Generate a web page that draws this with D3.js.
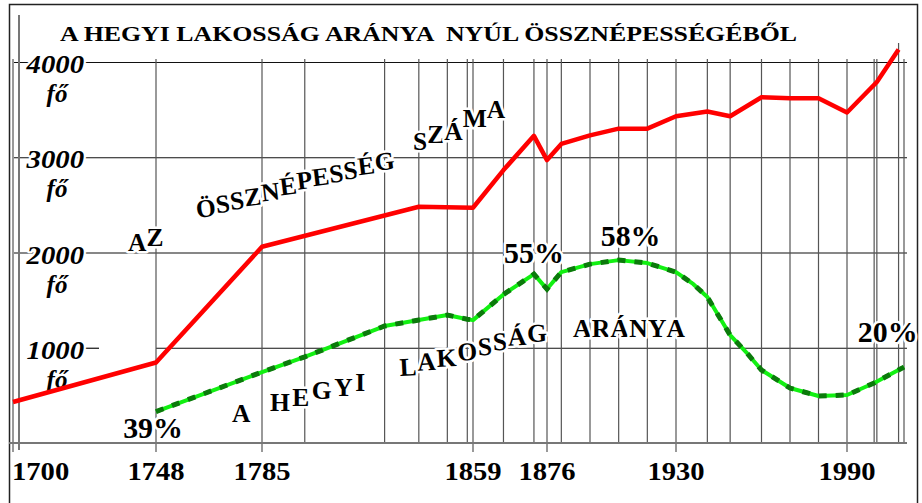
<!DOCTYPE html>
<html>
<head>
<meta charset="utf-8">
<script src="https://cdn.jsdelivr.net/npm/d3@7"></script>
<style>
body { margin: 0; background: #fff; }
svg { display: block; font-family: "Liberation Serif", "Times New Roman", serif; }
</style>
</head>
<body>
<svg id="chart" width="922" height="503"></svg>
<script>
// labelled years on the bottom axis (the axis is not evenly spaced in the original)
var tickYears = [1700, 1748, 1785, 1859, 1876, 1930, 1990];
var lastYear = 2011;
// every vertical line of the grid
var gridYears = [1700, 1748, 1785, 1800, 1828, 1840, 1850, 1857, 1859, 1866, 1873, 1876,
                 1882, 1894, 1906, 1918, 1930, 1941, 1949, 1960, 1970, 1980, 1990,
                 2000, 2001, 2009, 2011];
var valueTicks = [1000, 2000, 3000, 4000];
var unitLabel = "fő";
var titleText = "A HEGYI LAKOSSÁG ARÁNYA  NYÚL ÖSSZNÉPESSÉGÉBŐL";

// total population (red)
var totalYears  = [1700, 1748, 1785, 1840, 1859, 1866, 1873, 1876, 1882, 1894, 1906,
                   1918, 1930, 1941, 1949, 1960, 1970, 1980, 1990, 2001, 2009];
var totalValues = [430, 845, 2060, 2480, 2470, 2865, 3225, 2970, 3140, 3230, 3300,
                   3300, 3430, 3480, 3430, 3630, 3620, 3620, 3470, 3790, 4130];

// share of the hill population (green), drawn at the height it has in the picture
var shareYears  = [1748, 1785, 1800, 1828, 1840, 1850, 1857, 1859, 1866, 1873, 1876, 1882,
                   1894, 1906, 1918, 1930, 1936, 1941, 1949, 1955, 1960, 1970, 1980,
                   1990, 2000, 2011];
var shareValues = [330, 745, 905, 1228, 1291, 1343, 1300, 1290, 1560, 1773, 1616, 1794,
                   1878, 1920, 1889, 1794, 1670, 1532, 1133, 940, 766, 577, 493,
                   504, 630, 797];

var shareLabels = ["39%", "55%", "58%", "20%"];
var shareLabelYears = [1747, 1873, 1911, 2005];
var shareLabelValues = [50, 1890, 2070, 1060];

// the curved hand lettering: text, baseline anchors [x, y], extra letter gap, tilt
var phrases = [
    {text: "AZ", pts: [[128, 251], [145, 246]], gap: 0, tilt: 0},
    {text: "ÖSSZNÉPESSÉG", pts: [[197, 218], [252, 205], [300, 189], [340, 181], [373, 171]], gap: 0, tilt: -7},
    {text: "SZÁMA", pts: [[413, 150], [426, 143], [442, 142], [459, 129], [482, 118]], gap: 0, tilt: 0},
    {text: "A", pts: [[232, 422]], gap: 0, tilt: 0},
    {text: "HEGYI", pts: [[270, 411], [293, 406], [314, 398], [335, 396], [357, 390]], gap: 2.5, tilt: 0},
    {text: "LAKOSSÁG", pts: [[400, 376], [416, 371], [437, 367], [460, 360], [480, 355], [495, 350], [511, 345], [529, 342]], gap: 0.8, tilt: -3},
    {text: "ARÁNYA", pts: [[573, 337]], gap: 0.3, tilt: 0}
];

var svg = d3.select("#chart");

var x = d3.scaleLinear()
    .domain(tickYears.concat([lastYear]))
    .range([13, 156, 262, 473, 547, 676, 847, 904]);
var y = d3.scaleLinear().domain([0, 4000]).range([443, 62]);
var gridTop = 59, gridRight = 907;

function widen(sel, k) {
    sel.each(function() {
        var w = this.getComputedTextLength();
        d3.select(this).attr("textLength", w * k).attr("lengthAdjust", "spacingAndGlyphs");
    });
}

function halo(sel, w) {
    sel.attr("stroke", "#fff").attr("stroke-width", w)
       .attr("stroke-linejoin", "round").attr("paint-order", "stroke");
}

// frame
svg.append("path")
    .attr("d", "M9.5,510V4.5H917.5V510")
    .attr("fill", "none").attr("stroke", "#222").attr("stroke-width", 1.5);

// horizontal grid (the lowest one only starts at 1748, with a short tick by its label)
svg.append("g").selectAll("line")
    .data(valueTicks).enter().append("line")
    .attr("x1", function(d, i) { return i == 0 ? x(1748) : 14; })
    .attr("x2", gridRight)
    .attr("y1", function(d) { return y(d) + 0.5; })
    .attr("y2", function(d) { return y(d) + 0.5; })
    .attr("stroke", "#111").attr("stroke-width", 1.2);
svg.append("line")
    .attr("x1", 84).attr("x2", 99)
    .attr("y1", y(valueTicks[0]) + 0.5).attr("y2", y(valueTicks[0]) + 0.5)
    .attr("stroke", "#111").attr("stroke-width", 1.2);

// vertical grid
svg.append("g").selectAll("line")
    .data(gridYears).enter().append("line")
    .attr("x1", function(d) { return x(d); })
    .attr("x2", function(d) { return x(d); })
    .attr("y1", function(d) { return d == 2009 ? 43 : gridTop; })
    .attr("y2", function(d) { return tickYears.indexOf(d) >= 0 ? 452 : 444; })
    .attr("stroke", "#555").attr("stroke-width", 1.2);

// y axis and base line
svg.append("line")
    .attr("x1", 19).attr("x2", 19).attr("y1", 15).attr("y2", 450)
    .attr("stroke", "#777").attr("stroke-width", 2);
svg.append("line")
    .attr("x1", 9).attr("x2", gridRight).attr("y1", y(0)).attr("y2", y(0))
    .attr("stroke", "#777").attr("stroke-width", 2);

// title
svg.append("text")
    .attr("x", 60).attr("y", 41)
    .attr("font-size", 21).attr("font-weight", "bold")
    .style("white-space", "pre")
    .attr("textLength", 737).attr("lengthAdjust", "spacingAndGlyphs")
    .text(titleText);

// value labels
var yLab = svg.append("g")
    .attr("font-size", 25).attr("font-weight", "bold").attr("font-style", "italic");
yLab.selectAll("text.num")
    .data(valueTicks).enter().append("text")
    .attr("class", "num")
    .attr("x", 84).attr("y", function(d) { return y(d) + 11; })
    .attr("text-anchor", "end")
    .text(function(d) { return d; })
    .call(halo, 4)
    .call(widen, 1.15);
yLab.selectAll("text.unit")
    .data(valueTicks).enter().append("text")
    .attr("class", "unit")
    .attr("x", 57).attr("y", function(d) { return y(d) + 40; })
    .attr("text-anchor", "middle")
    .text(unitLabel)
    .call(halo, 4);

// year labels
svg.append("g")
    .attr("font-size", 26).attr("font-weight", "bold")
    .selectAll("text")
    .data(tickYears).enter().append("text")
    .attr("x", function(d, i) { return i == 0 ? x(d) - 1 : x(d); })
    .attr("y", 480)
    .attr("text-anchor", function(d, i) { return i == 0 ? "start" : "middle"; })
    .text(function(d) { return d; })
    .call(widen, 1.1);

// hand lettering along the lines
phrases.forEach(function(p) {
    var base = p.pts.length > 1
        ? d3.scaleLinear().domain(p.pts.map(function(q) { return q[0]; }))
                          .range(p.pts.map(function(q) { return q[1]; })).clamp(true)
        : function() { return p.pts[0][1]; };
    var g = svg.append("g").attr("font-size", 25.5).attr("font-weight", "bold");
    var cx = p.pts[0][0];
    p.text.split("").forEach(function(c) {
        var by = base(cx);
        var t = g.append("text")
            .attr("x", cx).attr("y", by)
            .attr("transform", "rotate(" + p.tilt + "," + cx + "," + by + ")")
            .text(c)
            .call(halo, 5);
        cx += t.node().getComputedTextLength() + p.gap;
    });
});

// percent labels
svg.append("g")
    .attr("font-size", 29).attr("font-weight", "bold")
    .selectAll("text")
    .data(shareLabels).enter().append("text")
    .attr("x", function(d, i) { return x(shareLabelYears[i]); })
    .attr("y", function(d, i) { return y(shareLabelValues[i]); })
    .attr("text-anchor", "middle")
    .text(function(d) { return d; })
    .call(halo, 5)
    .call(widen, 1.03);

// total population line
var totalLine = d3.line()
    .x(function(d, i) { return x(totalYears[i]); })
    .y(function(d) { return y(d); });
svg.append("path")
    .attr("d", totalLine(totalValues))
    .attr("fill", "none").attr("stroke", "#ff0000")
    .attr("stroke-width", 4.5).attr("stroke-linejoin", "round");

// share line: bright green with dark green dashes on top
var shareLine = d3.line()
    .x(function(d, i) { return x(shareYears[i]); })
    .y(function(d) { return y(d); });
svg.append("path")
    .attr("d", shareLine(shareValues))
    .attr("fill", "none").attr("stroke", "#12f012")
    .attr("stroke-width", 4).attr("stroke-linejoin", "round");
svg.append("path")
    .attr("d", shareLine(shareValues))
    .attr("fill", "none").attr("stroke", "#0b7a0b")
    .attr("stroke-width", 5).attr("stroke-dasharray", "8,9");
</script>
</body>
</html>
